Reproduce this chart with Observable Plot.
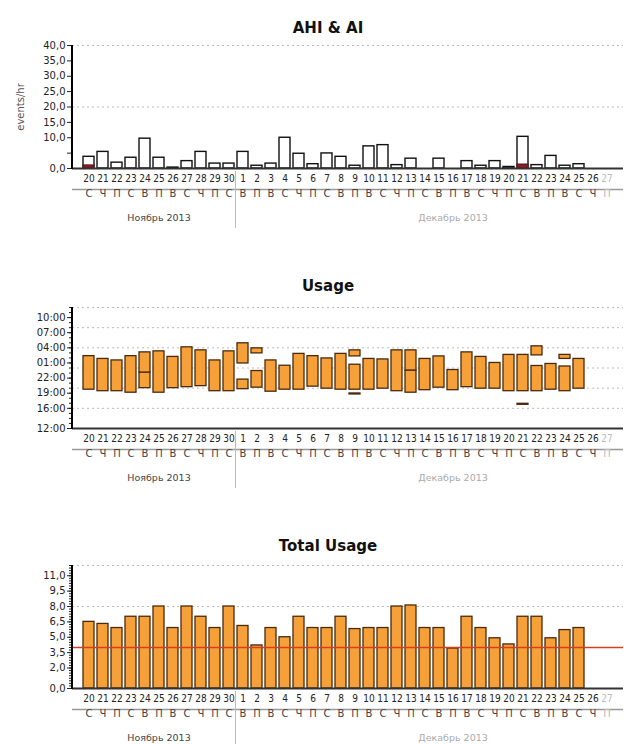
<!DOCTYPE html>
<html>
<head>
<meta charset="utf-8">
<script src="https://cdn.jsdelivr.net/npm/d3@7"></script>
<script src="https://cdn.jsdelivr.net/npm/@observablehq/plot@0.6"></script>
<style>
  html, body { margin: 0; padding: 0; background: #fff; }
  #wrap { position: relative; width: 624px; height: 744px; overflow: hidden; }
  #wrap svg { position: absolute; left: 0; }
</style>
</head>
<body>
<div id="wrap"></div>
<script>
// ---------- categories ----------
const dayLabels = ["20","21","22","23","24","25","26","27","28","29","30",
  "1","2","3","4","5","6","7","8","9","10","11","12","13","14","15","16","17","18","19","20","21","22","23","24","25","26","27"];
const weekdays = ["С","Ч","П","С","В","П","В","С","Ч","П","С",
  "В","П","В","С","Ч","П","С","В","П","В","С","Ч","П","С","В","П","В","С","Ч","П","С","В","П","В","С","Ч","П"];
const monthNames = ["Ноябрь 2013", "Декабрь 2013"];
const monthStart = [0, 11];        // first column of each month
const monthLabelAt = [5, 26];      // column the month name is centred on
const greyedDays = [37];           // days without data yet

// ---------- AHI & AI (events/hr) ----------
const ahi = [3.8,5.4,1.9,3.5,9.7,3.5,0.3,2.4,5.4,1.6,1.6,
  5.4,0.9,1.6,10.0,4.8,1.4,4.9,3.8,0.9,7.2,7.6,1.1,3.2,0,3.2,0,2.4,0.9,2.4,0.5,10.3,1.1,4.1,0.9,1.4,0,0];
const ai = [1.0,0,0,0,0,0,0,0,0,0,0,
  0,0,0,0,0,0,0,0,0,0,0,0,0,0,0,0,0,0,0,0,1.3,0,0,0,0,0,0];
const ahiTicks = [0,5,10,15,20,25,30,35,40];
const ahiGrid = [20,40];

// ---------- Usage sessions (hours after 12:00) ----------
const sessionDay   = [0,1,2,3,4,4,5,6,7,8,9,10,11,11,12,12,13,14,15,16,17,18,19,19,19,20,21,22,23,23,24,25,26,27,28,29,30,31,31,32,32,33,34,34,35];
const sessionStart = [7.7,7.4,7.4,7.1,8.0,11.1,7.1,8.0,8.2,8.4,7.4,7.4,7.8,12.9,8.1,14.9,7.3,7.7,7.7,8.3,7.9,7.7,6.75,7.7,14.3,7.7,7.9,7.4,7.1,11.5,7.6,8.1,7.6,8.2,7.9,7.9,7.4,4.7,7.4,7.4,14.5,7.7,7.4,13.8,7.9];
const sessionEnd   = [14.35,13.8,13.5,14.35,11.1,15.1,15.3,14.2,16.1,15.5,13.5,15.3,9.7,16.9,11.4,15.9,13.5,12.45,14.8,14.35,13.9,14.8,6.95,12.65,15.5,13.8,13.7,15.5,11.5,15.5,13.8,14.3,11.6,15.1,14.2,13.0,14.6,4.9,14.6,12.4,16.3,12.8,12.3,14.6,13.8];
const usageTicks = [0,4,7,10,13,16,19,22];
const usageTickLabels = ["12:00","16:00","19:00","22:00","01:00","04:00","07:00","10:00"];
const usageMinor = d3.range(0, 25, 1);
const usageGrid = [4,8,12,16,20,24];

// ---------- Total usage (hours) ----------
const totalUsage = [6.5,6.3,5.9,7.0,7.0,8.0,5.9,8.0,7.0,5.9,8.0,
  6.1,4.2,5.9,5.0,7.0,5.9,5.9,7.0,5.8,5.9,5.9,8.0,8.1,5.9,5.9,3.9,7.0,5.9,4.9,4.3,7.0,7.0,4.9,5.7,5.9,null,null];
const totalTicks = [0,2,3.5,5,6.5,8,9.5,11];
const totalMinor = d3.range(0, 12.01, 0.25);
const totalGrid = [8,12];
const compliance = 4;

// ---------- shared pieces ----------
const idx = d3.range(dayLabels.length);
const FONT = "DejaVu Sans";
const NARROW = "DejaVu Sans Condensed, Liberation Sans Narrow, DejaVu Sans";
const ORANGE = "#f6a03a", EDGE = "#4a2a0e";
const comma = d => d.toFixed(1).replace(".", ",");

function decorations() {
  return (index, scales, values, dim) => {
    const x = scales.x;
    const step = x.step(), bw = x.bandwidth();
    const top = dim.marginTop, bottom = dim.height - dim.marginBottom;
    const g = d3.create("svg:g");
    g.append("line").attr("x1", dim.marginLeft).attr("x2", dim.marginLeft)
      .attr("y1", top).attr("y2", bottom + 1).attr("stroke", "#000").attr("stroke-width", 2);
    for (const m of monthStart.slice(1)) {
      const bx = x(m) - (step - bw) / 2;
      g.append("line").attr("x1", bx).attr("x2", bx)
        .attr("y1", bottom + 3).attr("y2", bottom + 60).attr("stroke", "#bbb");
    }
    return g.node();
  };
}

function xAxisMarks() {
  return [
    Plot.ruleY([0], {stroke: "#333", strokeWidth: 2}),
    Plot.text(idx.filter(i => !greyedDays.includes(i)), {x: d => d, text: d => dayLabels[d], frameAnchor: "bottom", dy: 13, fontFamily: NARROW, fontSize: 10, fill: "#222"}),
    Plot.text(greyedDays, {x: d => d, text: d => dayLabels[d], frameAnchor: "bottom", dy: 13, fontFamily: NARROW, fontSize: 10, fill: "#bbb"}),
    Plot.ruleY([0], {dy: 21, stroke: "#999", strokeWidth: 1.5}),
    Plot.text(idx.filter(i => !greyedDays.includes(i)), {x: d => d, text: d => weekdays[d], frameAnchor: "bottom", dy: 28, fontFamily: FONT, fontSize: 10, fill: "#444"}),
    Plot.text(greyedDays, {x: d => d, text: d => weekdays[d], frameAnchor: "bottom", dy: 28, fontFamily: FONT, fontSize: 10, fill: "#bbb"}),
    Plot.text([0], {x: i => monthLabelAt[i], text: i => monthNames[i], frameAnchor: "bottom", dy: 52, fontFamily: FONT, fontSize: 9.5, fill: "#444"}),
    Plot.text([1], {x: i => monthLabelAt[i], text: i => monthNames[i], frameAnchor: "bottom", dy: 52, fontFamily: FONT, fontSize: 9.5, fill: "#aaa"}),
    decorations()
  ];
}

function base(marginTop, yDomain, marks) {
  return Plot.plot({
    width: 624, height: 260,
    marginLeft: 72, marginRight: 1, marginTop, marginBottom: 92,
    style: {fontFamily: FONT, fontSize: "10px", background: "transparent", overflow: "visible"},
    x: {type: "band", domain: idx, paddingInner: 0.2, paddingOuter: 0.1, axis: null},
    y: {domain: yDomain, label: null},
    marks
  });
}

function title(t, dy) {
  return Plot.text([t], {frameAnchor: "top", dy, dx: -20, fontSize: 15, fontWeight: "bold", fill: "#111", fontFamily: FONT});
}

const wrap = document.getElementById("wrap");
function place(svg, top) { svg.style.top = top + "px"; wrap.appendChild(svg); }

// ---------- Panel 1: AHI & AI ----------
const p1 = base(45, [0, 40], [
  Plot.ruleY(ahiGrid, {stroke: "#bbb", strokeDasharray: "2,3"}),
  Plot.barY(idx.filter(i => ahi[i] > 0), {x: d => d, y: d => ahi[d], fill: "white", stroke: "#111", strokeWidth: 1.4}),
  Plot.barY(idx.filter(i => ai[i] > 0), {x: d => d, y: d => ai[d], fill: "#8b1c24", stroke: "#5a0f14", strokeWidth: 1}),
  Plot.axisY({ticks: ahiTicks, tickFormat: d => d === 5 ? "" : comma(d), tickSize: 5, tickPadding: 2, color: "#222", label: null}),
  Plot.text(["events/hr"], {frameAnchor: "left", dx: -52, rotate: -90, textAnchor: "middle", fill: "#555", fontSize: 10}),
  title("AHI & AI", -23),
  ...xAxisMarks()
]);
place(p1, 0);

// ---------- Panel 2: Usage ----------
const sIdx = d3.range(sessionDay.length);
const p2 = base(47, [0, 24], [
  Plot.ruleY(usageGrid, {stroke: "#bbb", strokeDasharray: "2,3"}),
  Plot.barY(sIdx, {x: j => sessionDay[j], y1: j => sessionStart[j], y2: j => sessionEnd[j], fill: ORANGE, stroke: EDGE, strokeWidth: 1.3}),
  Plot.axisY({ticks: usageMinor, tickFormat: () => "", tickSize: 3, color: "#222", label: null}),
  Plot.axisY({ticks: usageTicks, tickFormat: d => usageTickLabels[usageTicks.indexOf(d)], tickSize: 5, tickPadding: 2, color: "#222", label: null}),
  title("Usage", -27),
  ...xAxisMarks()
]);
place(p2, 260);

// ---------- Panel 3: Total Usage ----------
const p3 = base(45, [0, 12], [
  Plot.ruleY(totalGrid, {stroke: "#bbb", strokeDasharray: "2,3"}),
  Plot.barY(idx.filter(i => totalUsage[i] != null), {x: d => d, y: d => totalUsage[d], fill: ORANGE, stroke: EDGE, strokeWidth: 1.3}),
  Plot.ruleY([compliance], {stroke: "#d2401f", strokeWidth: 1.3}),
  Plot.axisY({ticks: totalMinor, tickFormat: () => "", tickSize: 3, color: "#222", label: null}),
  Plot.axisY({ticks: totalTicks, tickFormat: comma, tickSize: 5, tickPadding: 2, color: "#222", label: null}),
  title("Total Usage", -25),
  ...xAxisMarks()
]);
place(p3, 520);
</script>
</body>
</html>
